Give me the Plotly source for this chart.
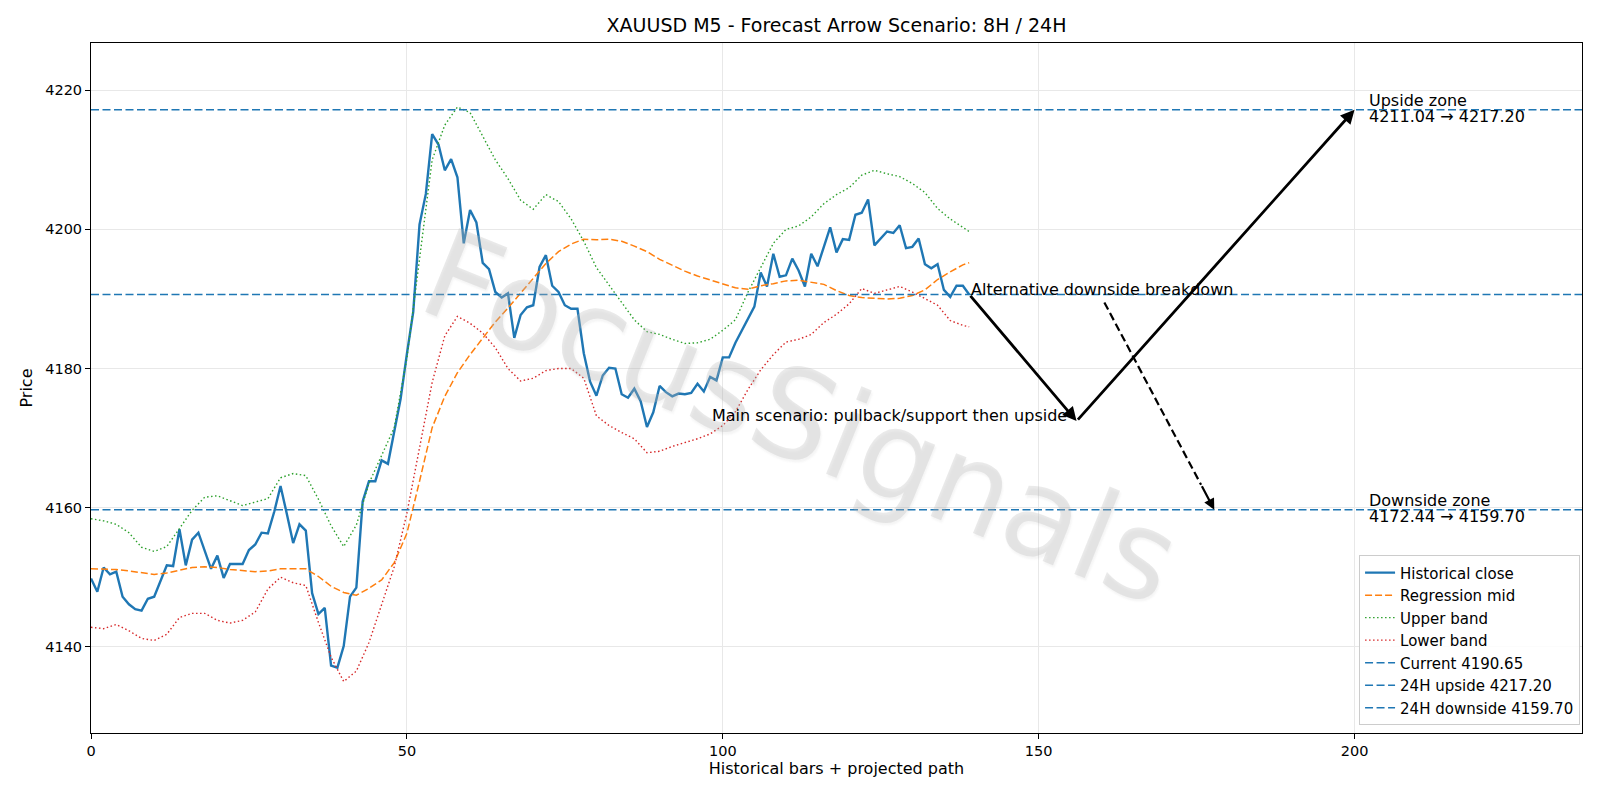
import plotly.graph_objects as go

# ---------------- data ----------------
close = [
    4149.8, 4147.9, 4151.4, 4150.4, 4150.8, 4147.2, 4146.1, 4145.4, 4145.2, 4146.9,
    4147.2, 4149.4, 4151.7, 4151.6, 4156.9, 4151.7, 4155.4, 4156.4, 4153.9, 4151.2,
    4153.1, 4149.9, 4151.9, 4151.9, 4151.9, 4153.9, 4154.7, 4156.4, 4156.3, 4159.4,
    4163.1, 4159.1, 4154.9, 4157.6, 4156.7, 4147.7, 4144.7, 4145.6, 4137.3, 4137.0,
    4140.1, 4147.2, 4148.5, 4160.9, 4163.8, 4163.8, 4166.8, 4166.3, 4171.2, 4175.6,
    4182.1, 4188.1, 4200.7, 4205.1, 4213.7, 4212.2, 4208.5, 4210.1, 4207.5, 4198.0,
    4202.8, 4201.0, 4195.2, 4194.3, 4191.0, 4190.2, 4190.8, 4184.4, 4187.7, 4188.8,
    4189.1, 4194.6, 4196.3, 4191.9, 4191.0, 4189.1, 4188.6, 4188.6, 4182.2, 4178.1,
    4176.1, 4179.0, 4180.1, 4180.0, 4176.3, 4175.8, 4177.1, 4175.3, 4171.6, 4173.7,
    4177.5, 4176.6, 4176.0, 4176.4, 4176.3, 4176.5, 4177.8, 4176.7, 4178.8, 4178.3,
    4181.6, 4181.6, 4183.7, 4185.5, 4187.2, 4188.9, 4193.8, 4191.8, 4196.5, 4193.2,
    4193.4, 4195.8, 4194.1, 4191.8, 4196.5, 4194.7, 4197.5, 4200.3, 4196.7, 4198.6,
    4198.5, 4202.1, 4202.4, 4204.3, 4197.7, 4198.7, 4199.7, 4199.5, 4200.6, 4197.3,
    4197.5, 4198.7, 4195.0, 4194.4, 4195.0, 4191.3, 4190.3, 4191.9, 4191.9, 4190.65,
]
bars = list(range(len(close)))

band_x = [0, 2, 4, 6, 8, 10, 12, 14, 16, 18, 20, 22, 24, 26, 28, 30, 32, 34, 36, 38,
          40, 42, 44, 46, 48, 50, 52, 54, 56, 58, 60, 62, 64, 66, 68, 70, 72, 74, 76, 78,
          80, 82, 84, 86, 88, 90, 92, 94, 96, 98, 100, 102, 104, 106, 108, 110, 112, 114,
          116, 118, 120, 122, 124, 126, 128, 130, 132, 134, 136, 138, 139]

reg_mid = [4151.2, 4151.2, 4151.1, 4150.9, 4150.6, 4150.4, 4150.6, 4151.0, 4151.4, 4151.5,
           4151.4, 4151.1, 4150.9, 4150.8, 4150.9, 4151.2, 4151.2, 4151.2, 4150.1, 4148.7,
           4147.8, 4147.4, 4148.4, 4149.6, 4152.1, 4156.3, 4163.8, 4171.5, 4176.0, 4179.4,
           4182.0, 4184.4, 4186.7, 4188.7, 4190.8, 4193.0, 4195.1, 4196.8, 4197.9, 4198.6,
           4198.5, 4198.6, 4198.3, 4197.6, 4196.8, 4195.7, 4194.8, 4194.0, 4193.3, 4192.7,
           4192.1, 4191.6, 4191.4, 4191.9, 4192.2, 4192.6, 4192.7, 4192.4, 4192.1, 4191.2,
           4190.5, 4190.2, 4190.1, 4190.0, 4190.1, 4190.5, 4191.3, 4192.8, 4193.9, 4194.9,
           4195.2]

upper_band = [4158.4, 4158.1, 4157.6, 4156.4, 4154.3, 4153.7, 4154.4, 4157.0, 4159.6, 4161.5,
              4161.7, 4161.0, 4160.3, 4160.8, 4161.3, 4164.3, 4164.9, 4164.6, 4161.2, 4157.4,
              4154.4, 4157.5, 4163.5, 4167.5, 4171.5, 4181.5, 4195.5, 4210.0, 4215.0, 4217.6,
              4216.8, 4213.5, 4210.0, 4207.3, 4204.2, 4202.9, 4205.0, 4204.0, 4201.5, 4198.3,
              4194.5, 4192.0, 4189.5, 4187.0, 4185.3, 4184.9, 4184.2, 4183.6, 4183.7, 4184.2,
              4185.5, 4187.0, 4191.0, 4194.5, 4198.0, 4200.0, 4200.5, 4201.8, 4203.7, 4205.0,
              4206.0, 4207.8, 4208.5, 4208.0, 4207.6, 4206.6, 4205.3, 4203.0, 4201.5, 4200.3,
              4199.7]

lower_band = [4142.8, 4142.6, 4143.2, 4142.3, 4141.2, 4140.9, 4141.8, 4144.2, 4144.8, 4144.8,
              4143.8, 4143.4, 4143.8, 4145.0, 4148.3, 4150.0, 4149.2, 4148.8, 4143.5, 4138.5,
              4135.0, 4136.5, 4140.6, 4146.0, 4151.5, 4159.2, 4168.6, 4178.0, 4184.7, 4187.5,
              4186.5, 4185.1, 4183.0, 4180.0, 4178.2, 4178.6, 4179.7, 4180.0, 4180.0, 4178.6,
              4173.2, 4171.8, 4170.8, 4169.9, 4167.9, 4168.1, 4168.8, 4169.3, 4169.9, 4170.6,
              4171.8, 4173.8, 4177.0, 4179.8, 4182.0, 4183.8, 4184.2, 4184.9, 4186.6, 4187.8,
              4189.3, 4191.5, 4190.8, 4191.3, 4191.8, 4191.0, 4190.0, 4189.1, 4186.9, 4186.2,
              4186.0]

CURRENT = 4190.65
UP_8H, UP_24H = 4211.04, 4217.20
DOWN_8H, DOWN_24H = 4172.44, 4159.70

# scenario path (bar index, price)
cur_pt = (139, CURRENT)
pullback_pt = (156, DOWN_8H)
upside_pt = (200, UP_24H)
alt_start = (160.4, 4189.5)
alt_end = (177.8, DOWN_24H)
zone_text_x = 202

X_RANGE = [0, 236]
Y_RANGE = [4127.6, 4226.8]
x_ticks = [0, 50, 100, 150, 200]
y_ticks = [4140, 4160, 4180, 4200, 4220]

BLUE, ORANGE, GREEN, RED = "#1f77b4", "#ff7f0e", "#2ca02c", "#d62728"
FS = 16

# ---------------- figure ----------------
fig = go.Figure()

fig.add_trace(go.Scatter(x=bars, y=close, mode="lines", name="Historical close",
                         line=dict(color=BLUE, width=2.4)))
fig.add_trace(go.Scatter(x=band_x, y=reg_mid, mode="lines", name="Regression mid",
                         line=dict(color=ORANGE, width=1.5, dash="7px,3px")))
fig.add_trace(go.Scatter(x=band_x, y=upper_band, mode="lines", name="Upper band",
                         line=dict(color=GREEN, width=1.4, dash="1.5px,2.5px")))
fig.add_trace(go.Scatter(x=band_x, y=lower_band, mode="lines", name="Lower band",
                         line=dict(color=RED, width=1.4, dash="1.5px,2.5px")))
for val, nm in [(CURRENT, f"Current {CURRENT:.2f}"),
                (UP_24H, f"24H upside {UP_24H:.2f}"),
                (DOWN_24H, f"24H downside {DOWN_24H:.2f}")]:
    fig.add_trace(go.Scatter(x=X_RANGE, y=[val, val], mode="lines", name=nm,
                             line=dict(color=BLUE, width=1.5, dash="8px,3.5px")))

annotations = []
# watermark
annotations.append(dict(text="FocusSignals", xref="paper", yref="paper", x=0.476, y=0.458,
                        showarrow=False, textangle=22,
                        font=dict(family="DejaVu Sans", size=124, color="rgba(185,185,185,0.3)",
                                  shadow="2px 2px 2px rgba(120,120,120,0.25)")))

arrow_common = dict(xref="x", yref="y", axref="x", ayref="y", text="", showarrow=True,
                    arrowhead=2, arrowsize=1.0, arrowwidth=2.8, arrowcolor="black", standoff=0)
annotations.append(dict(x=pullback_pt[0], y=pullback_pt[1], ax=cur_pt[0], ay=cur_pt[1], **arrow_common))
annotations.append(dict(x=upside_pt[0], y=upside_pt[1], ax=pullback_pt[0], ay=pullback_pt[1], **arrow_common))

# dashed alternative arrow: dashed shaft + head
frac = 0.88
mid_x = alt_start[0] + frac * (alt_end[0] - alt_start[0])
mid_y = alt_start[1] + frac * (alt_end[1] - alt_start[1])
annotations.append(dict(x=alt_end[0], y=alt_end[1], ax=mid_x, ay=mid_y,
                        xref="x", yref="y", axref="x", ayref="y", text="", showarrow=True,
                        arrowhead=2, arrowsize=1.0, arrowwidth=2.2, arrowcolor="black", standoff=0))

annotations.append(dict(text="Main scenario: pullback/support then upside", x=pullback_pt[0] - 1.2,
                        y=pullback_pt[1], xref="x", yref="y", xanchor="right", yanchor="middle",
                        showarrow=False, yshift=6, font=dict(size=FS, color="black")))
annotations.append(dict(text="Alternative downside breakdown", x=cur_pt[0], y=CURRENT,
                        xref="x", yref="y", xanchor="left", yanchor="middle", yshift=5,
                        showarrow=False, font=dict(size=FS, color="black")))
for yv, head, rng in [(UP_24H, "Upside zone", f"{UP_8H:.2f} → {UP_24H:.2f}"),
                      (DOWN_24H, "Downside zone", f"{DOWN_8H:.2f} → {DOWN_24H:.2f}")]:
    annotations.append(dict(text=head, x=zone_text_x, y=yv, xref="x", yref="y",
                            xanchor="left", yanchor="middle", yshift=9.5,
                            showarrow=False, font=dict(size=FS, color="black")))
    annotations.append(dict(text=rng, x=zone_text_x, y=yv, xref="x", yref="y",
                            xanchor="left", yanchor="middle", yshift=-6.5,
                            showarrow=False, font=dict(size=FS, color="black")))

shapes = [dict(type="line", xref="x", yref="y", x0=alt_start[0], y0=alt_start[1], x1=mid_x, y1=mid_y,
               line=dict(color="black", width=2.2, dash="8px,4px"))]

fig.update_layout(
    width=1600, height=800,
    margin=dict(l=91, r=18, t=43, b=67),
    paper_bgcolor="white", plot_bgcolor="white",
    font=dict(family="DejaVu Sans", size=FS, color="black"),
    title=dict(text="XAUUSD M5 - Forecast Arrow Scenario: 8H / 24H", x=0.5, xref="paper",
               xanchor="center", y=1 - 25.5 / 800, yanchor="middle",
               font=dict(size=19, color="black")),
    annotations=annotations,
    shapes=shapes,
    legend=dict(x=0.9987, xanchor="right", y=0.011, yanchor="bottom",
                bgcolor="rgba(255,255,255,0.85)", bordercolor="#cccccc", borderwidth=1,
                font=dict(size=15), tracegroupgap=0),
    showlegend=True,
)
fig.update_xaxes(range=X_RANGE, tickvals=x_ticks, showgrid=True, gridcolor="#e8e8e8", gridwidth=1,
                 showline=True, linecolor="black", linewidth=1, mirror=True, zeroline=False,
                 ticks="outside", ticklen=5, tickcolor="black", tickfont=dict(size=14.5),
                 title=dict(text="Historical bars + projected path", standoff=4, font=dict(size=FS)))
fig.update_yaxes(range=Y_RANGE, tickvals=y_ticks, showgrid=True, gridcolor="#e8e8e8", gridwidth=1,
                 showline=True, linecolor="black", linewidth=1, mirror=True, zeroline=False,
                 ticks="outside", ticklen=5, tickcolor="black", tickfont=dict(size=14.5),
                 title=dict(text="Price", standoff=8.5, font=dict(size=FS)))

fig.write_html("out.html")
